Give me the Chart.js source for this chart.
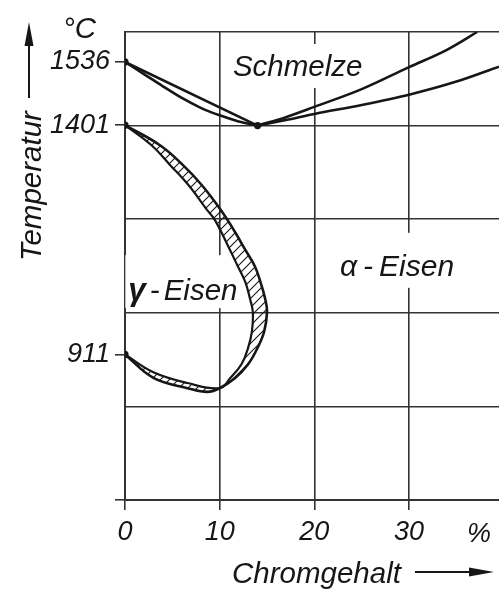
<!DOCTYPE html>
<html>
<head>
<meta charset="utf-8">
<script src="https://cdn.jsdelivr.net/npm/chart.js@4/dist/chart.umd.min.js"></script>
<style>
  html, body { margin: 0; padding: 0; background: #fff; }
  #c { display: block; }
</style>
</head>
<body>
<canvas id="c" width="499" height="590"></canvas>
<script>
// Axis ticks
const crTicks = [0, 10, 20, 30];
const crUnit = '%';
const crUnitAt = 37.4;
const tempGrid = [600, 800, 1000, 1200, 1400, 1600];
const tempMarks = [911, 1401, 1536];

// Melt boundaries, left of the minimum
const liqLeftCr = [0, 14];
const liqLeftT  = [1536, 1400];
const solLeftCr = [0, 2, 4, 6, 8, 10, 12, 14];
const solLeftT  = [1536, 1510, 1484, 1459, 1438, 1422, 1409, 1400];
// Melt boundaries, right of the minimum
const liqRightCr = [14, 17, 20, 25, 30, 34, 37.2];
const liqRightT  = [1400, 1418, 1440, 1478, 1525, 1562, 1600];
const solRightCr = [14, 17, 20, 25, 30, 35, 39.5];
const solRightT  = [1400, 1412, 1425, 1444, 1466, 1494, 1526];

// Gamma loop: outer (alpha side) and inner (gamma side) boundaries
const outerCr = [0, 3.7, 6.1, 8.1, 10.1, 11.7, 12.6, 13.7, 14.3, 14.8, 15.0, 14.7, 14.0, 13.0, 11.6, 10.0, 8.7, 6.6, 3.0, 0];
const outerT  = [1401, 1358, 1316, 1273, 1220, 1170, 1138, 1100, 1066, 1030, 1002, 960, 925, 890, 860, 839, 831, 839, 861, 911];
const innerCr = [0, 2.8, 4.75, 6.7, 8.66, 9.5, 11.0, 11.9, 12.7, 13.2, 13.5, 13.4, 13.0, 12.3, 11.1, 10.0, 6.6, 3.0, 0];
const innerT  = [1401, 1358, 1316, 1273, 1220, 1198, 1138, 1100, 1066, 1030, 1002, 960, 925, 890, 860, 839, 850, 873, 911];

// Marked points
const nodeCr = [0, 0, 0, 14];
const nodeT  = [1536, 1401, 911, 1400];

const INK = '#161616';
const GRID = '#333333';
const FONT = "'Liberation Sans', Arial, sans-serif";

const pts = (xs, ys) => xs.map((x, i) => ({ x, y: ys[i] }));

function hatchPattern() {
  const s = 9;
  const c = document.createElement('canvas');
  c.width = s; c.height = s;
  const g = c.getContext('2d');
  g.strokeStyle = INK;
  g.lineWidth = 1.1;
  g.beginPath();
  g.moveTo(0, s); g.lineTo(s, 0);
  g.moveTo(-1, 1); g.lineTo(1, -1);
  g.moveTo(s - 1, s + 1); g.lineTo(s + 1, s - 1);
  g.stroke();
  return g.createPattern(c, 'repeat');
}

const curve = (data, extra) => Object.assign({
  data, showLine: true, borderColor: INK, borderWidth: 2.6,
  pointRadius: 0, fill: false
}, extra);

const outerPts = pts(outerCr, outerT);
const innerPts = pts(innerCr, innerT);
const bandPts = outerPts.concat(innerPts.slice().reverse());

const regionLabels = [
  { parts: [{ t: 'Schmelze' }], cr: 11.4, temp: 1506, size: 29.5, gap: 0, pad: [11, 5, 12, 5] },
  { parts: [{ t: 'γ', bold: true }, { t: '-' }, { t: 'Eisen' }], cr: 0.35, temp: 1027, size: 29.5, gap: 4, pad: [24, 6, 8, 3] },
  { parts: [{ t: 'α' }, { t: '-' }, { t: 'Eisen' }], cr: 22.7, temp: 1079, size: 30, gap: 6, pad: [22, 8, 12, 8] }
];

function setFont(ctx, size, bold) {
  ctx.font = `italic ${bold ? 'bold ' : ''}${size}px ${FONT}`;
}

// The plot runs open to the right edge of the canvas
const fullWidthPlot = {
  id: 'fullWidthPlot',
  afterLayout(chart) {
    const a = chart.chartArea;
    const x = chart.scales.x;
    a.right = chart.width;
    a.width = a.right - a.left;
    x.right = a.right;
    x.width = x.right - x.left;
    x.configure();
  }
};

const textPlugin = {
  id: 'diagramText',
  beforeDatasetsDraw(chart) {
    const { ctx, scales: { x, y } } = chart;
    ctx.save();
    ctx.textBaseline = 'alphabetic';
    for (const lab of regionLabels) {
      const x0 = x.getPixelForValue(lab.cr);
      const y0 = y.getPixelForValue(lab.temp);
      let w = 0;
      for (const p of lab.parts) {
        setFont(ctx, p.bold ? lab.size + 2 : lab.size, p.bold);
        p.w = ctx.measureText(p.t).width;
        w += p.w;
      }
      w += lab.gap * (lab.parts.length - 1);
      const [pt, pr, pb, pl] = lab.pad;
      ctx.fillStyle = '#fff';
      ctx.fillRect(x0 - pl, y0 - 21 - pt, w + pl + pr, 21 + pt + pb);
      ctx.fillStyle = INK;
      let cx = x0;
      for (const p of lab.parts) {
        setFont(ctx, p.bold ? lab.size + 2 : lab.size, p.bold);
        ctx.fillText(p.t, cx, y0);
        cx += p.w + lab.gap;
      }
    }
    ctx.restore();
  },
  afterDraw(chart) {
    const { ctx, scales: { x } } = chart;
    ctx.save();
    ctx.fillStyle = INK;
    ctx.strokeStyle = INK;

    // unit of the composition axis, on the tick-label line
    setFont(ctx, 27, false);
    ctx.textAlign = 'center';
    ctx.textBaseline = 'alphabetic';
    ctx.fillText(crUnit, x.getPixelForValue(crUnitAt), 542);

    setFont(ctx, 29.5, false);
    // unit of the temperature axis
    ctx.textAlign = 'left';
    ctx.fillText('°C', 63, 38);

    // vertical axis title with arrow
    ctx.save();
    ctx.translate(41, 186);
    ctx.rotate(-Math.PI / 2);
    ctx.textAlign = 'center';
    ctx.fillText('Temperatur', 0, 0);
    ctx.restore();
    ctx.lineWidth = 2;
    ctx.beginPath(); ctx.moveTo(29, 98); ctx.lineTo(29, 40); ctx.stroke();
    ctx.beginPath(); ctx.moveTo(29, 22); ctx.lineTo(33.5, 46); ctx.lineTo(24.5, 46); ctx.closePath(); ctx.fill();

    // horizontal axis title with arrow
    ctx.textAlign = 'left';
    ctx.fillText('Chromgehalt', 232, 583);
    ctx.beginPath(); ctx.moveTo(415, 572); ctx.lineTo(472, 572); ctx.stroke();
    ctx.beginPath(); ctx.moveTo(494, 572); ctx.lineTo(469, 567.5); ctx.lineTo(469, 576.5); ctx.closePath(); ctx.fill();
    ctx.restore();
  }
};

new Chart(document.getElementById('c'), {
  type: 'scatter',
  data: {
    datasets: [
      { data: pts(nodeCr, nodeT), pointRadius: 3.6, pointBackgroundColor: INK, pointBorderWidth: 0, showLine: false },
      curve(pts(liqLeftCr, liqLeftT), { tension: 0 }),
      curve(pts(solLeftCr, solLeftT), { cubicInterpolationMode: 'monotone' }),
      curve(pts(liqRightCr, liqRightT), { cubicInterpolationMode: 'monotone' }),
      curve(pts(solRightCr, solRightT), { cubicInterpolationMode: 'monotone' }),
      curve(outerPts, { tension: 0.4 }),
      curve(innerPts, { tension: 0.4, borderWidth: 2.2 }),
      curve(bandPts, { tension: 0.4, borderWidth: 0, fill: 'shape', backgroundColor: hatchPattern() })
    ]
  },
  options: {
    responsive: false,
    animation: false,
    devicePixelRatio: 1,
    layout: { padding: { top: 32, right: 0, left: 0, bottom: 0 } },
    plugins: { legend: { display: false }, tooltip: { enabled: false } },
    scales: {
      x: {
        type: 'linear', min: 0, max: 39.5,
        afterBuildTicks: s => { s.ticks = crTicks.map(v => ({ value: v })); },
        afterFit: s => { s.height = 90; },
        ticks: {
          autoSkip: false, maxRotation: 0, padding: 6, color: INK,
          font: { family: FONT, size: 27, style: 'italic' },
          callback: v => String(v)
        },
        grid: { color: GRID, tickColor: GRID, lineWidth: 1.6, tickWidth: 1.6, tickLength: 10 },
        border: { display: true, color: GRID, width: 2 }
      },
      y: {
        type: 'linear', min: 600, max: 1600,
        afterBuildTicks: s => {
          const vals = Array.from(new Set(tempGrid.concat(tempMarks))).sort((a, b) => a - b);
          s.ticks = vals.map(v => ({ value: v }));
        },
        afterFit: s => { s.width = 125; },
        ticks: {
          autoSkip: false, padding: 5, color: INK,
          font: { family: FONT, size: 27, style: 'italic' },
          callback: v => tempMarks.includes(v) ? String(v) : ''
        },
        grid: {
          color: c => tempGrid.includes(c.tick.value) ? GRID : 'rgba(0,0,0,0)',
          tickColor: c => (tempMarks.includes(c.tick.value) || c.tick.value === 600) ? GRID : 'rgba(0,0,0,0)',
          lineWidth: 1.6, tickWidth: 1.6, tickLength: 10
        },
        border: { display: true, color: GRID, width: 2 }
      }
    }
  },
  plugins: [fullWidthPlot, textPlugin]
});
</script>
</body>
</html>
